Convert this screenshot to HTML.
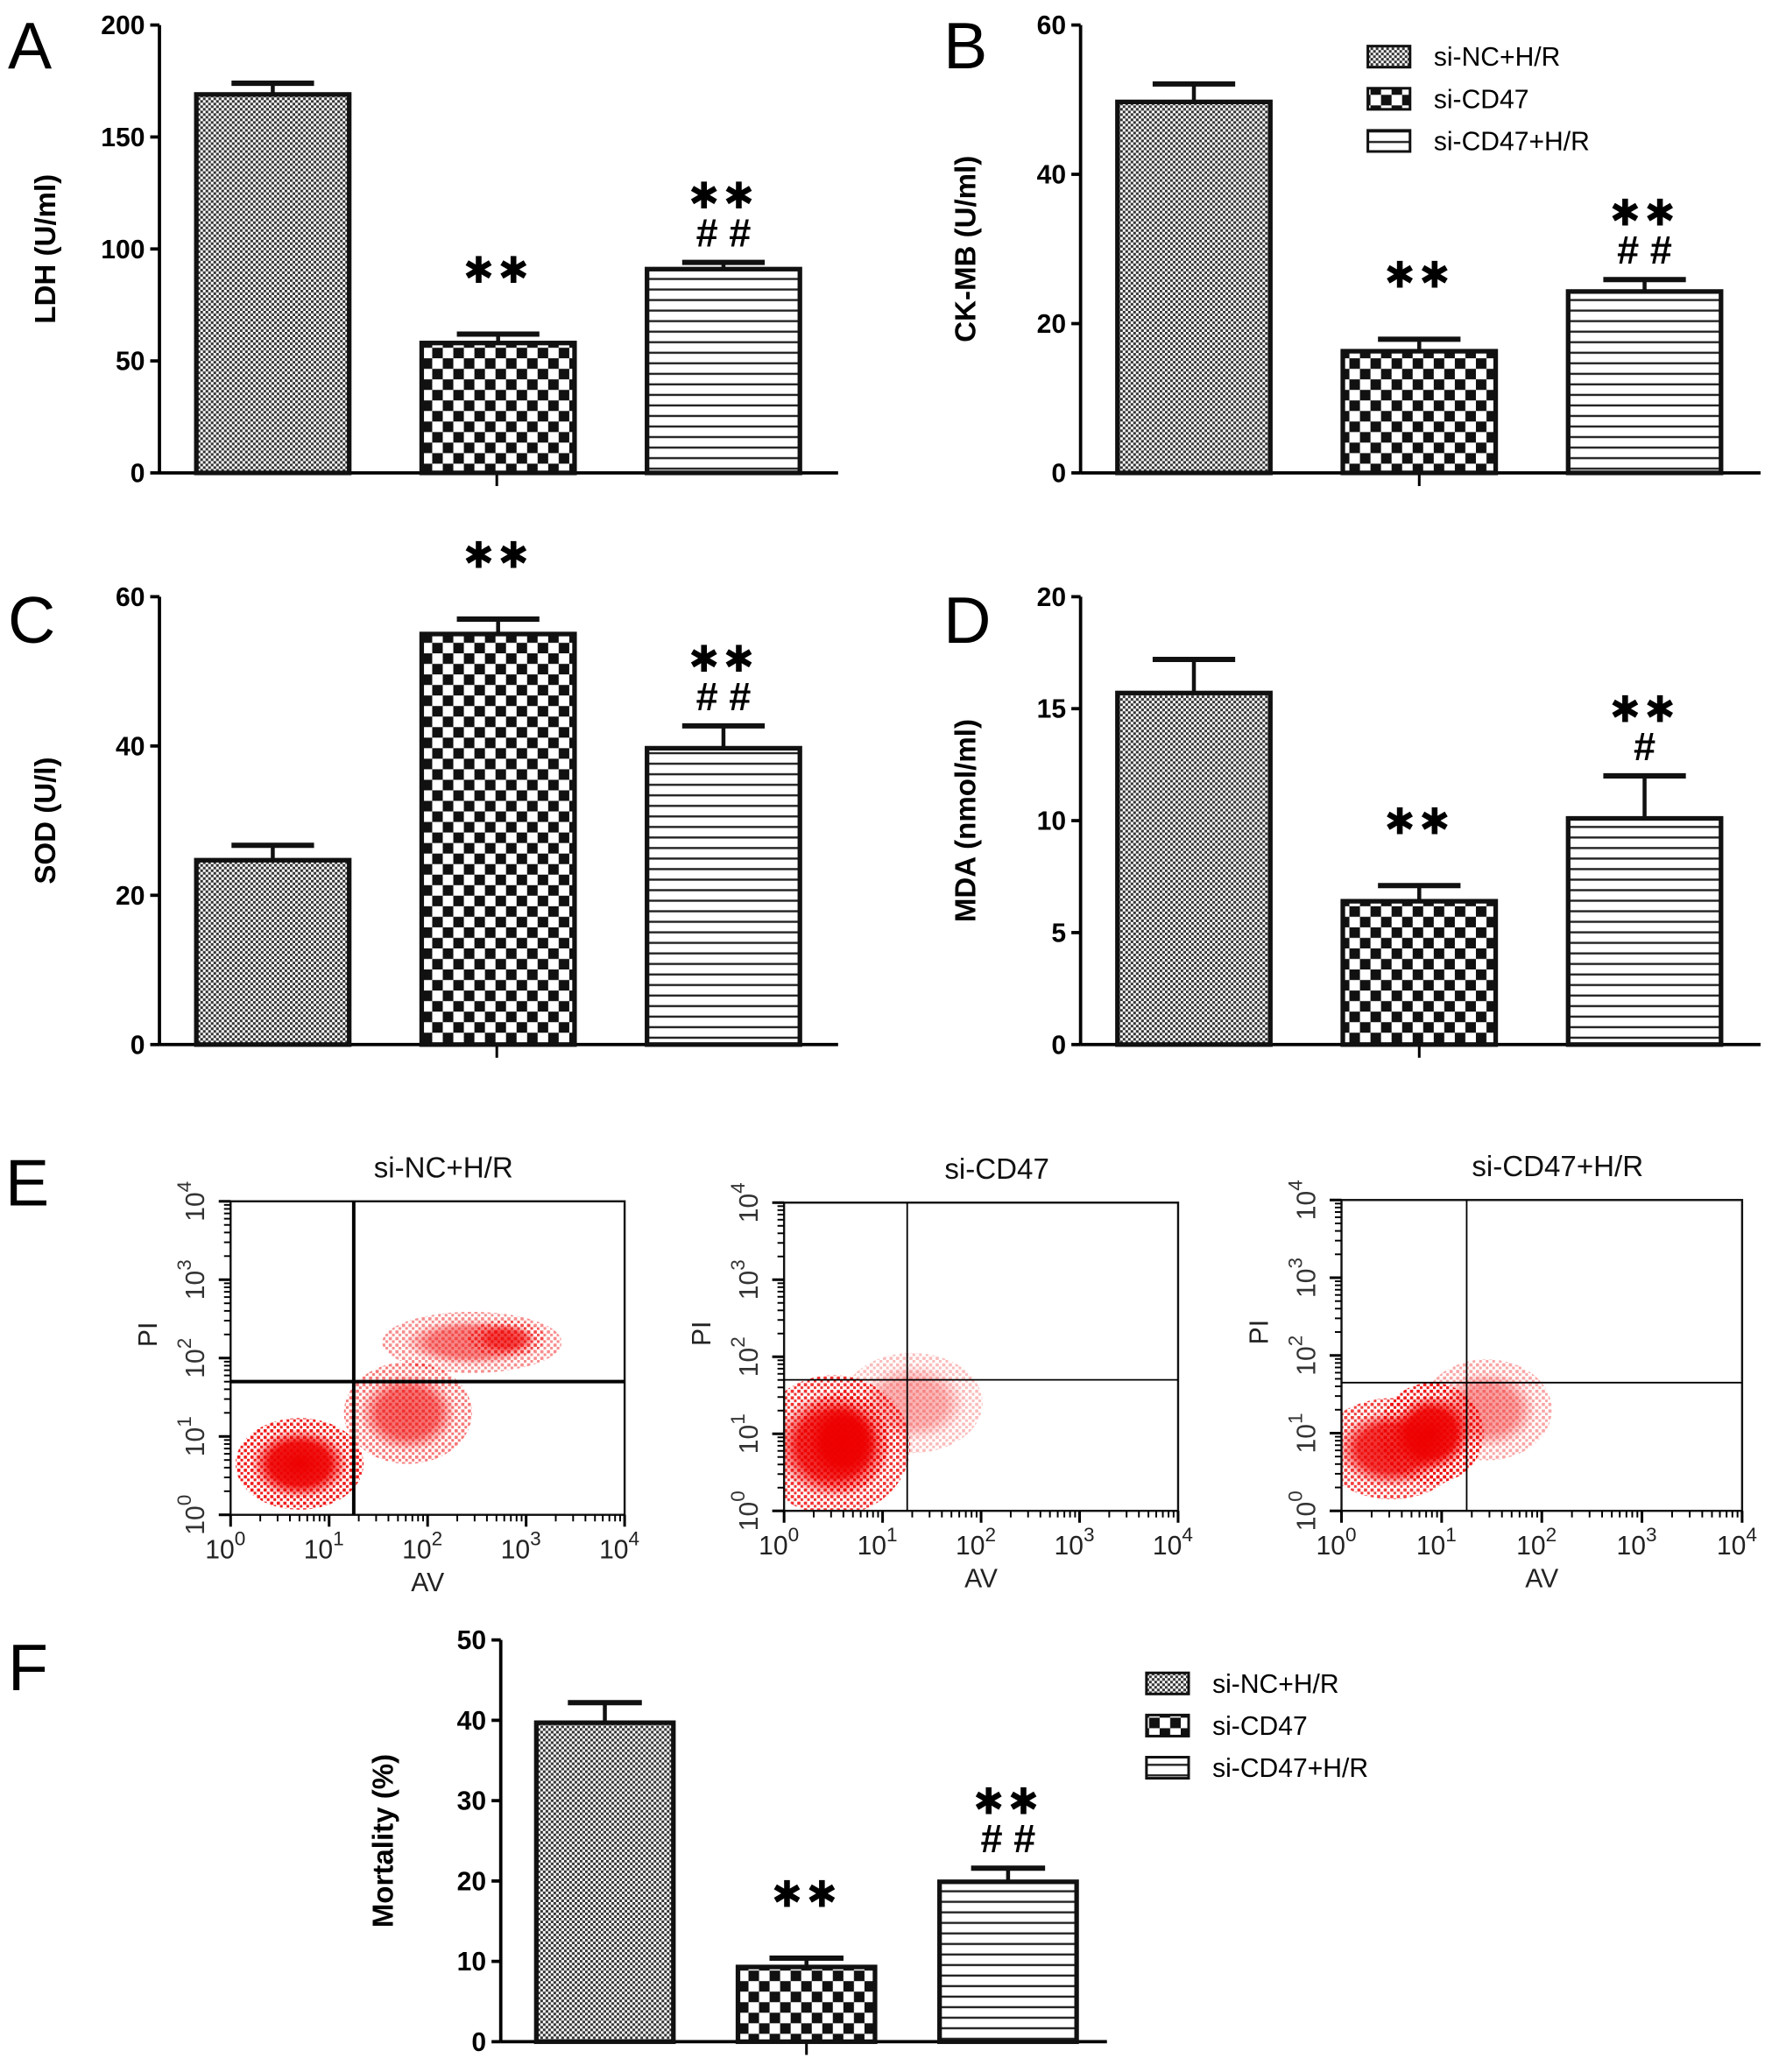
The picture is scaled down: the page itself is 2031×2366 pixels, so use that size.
<!DOCTYPE html>
<html><head><meta charset="utf-8">
<style>
html,body{margin:0;padding:0;background:#fff;}
svg{display:block;}
text{font-family:"Liberation Sans",Arial,sans-serif;}
</style></head>
<body>
<svg id="fig" width="2031" height="2366" viewBox="0 0 1350 1573" preserveAspectRatio="none" xmlns="http://www.w3.org/2000/svg">
<defs>
<pattern id="pFine" width="4" height="4" patternUnits="userSpaceOnUse"><rect width="4" height="4" fill="#fff"/><rect width="2" height="2" fill="#333"/><rect x="2" y="2" width="2" height="2" fill="#333"/></pattern>
<pattern id="pCheck" width="16" height="16" patternUnits="userSpaceOnUse"><rect width="16" height="16" fill="#fff"/><rect width="8" height="8" fill="#111"/><rect x="8" y="8" width="8" height="8" fill="#111"/></pattern>
<pattern id="pLines" width="8" height="8" patternUnits="userSpaceOnUse"><rect width="8" height="8" fill="#fff"/><rect y="3" width="8" height="1.6" fill="#222"/></pattern>
<pattern id="pDots" width="5" height="5" patternUnits="userSpaceOnUse"><rect width="5" height="5" fill="none"/><rect width="2.4" height="2.4" fill="#e00"/><rect x="2.5" y="2.5" width="2" height="2" fill="#e00"/></pattern>
<radialGradient id="gBlob"><stop offset="0" stop-color="#e00" stop-opacity="1"/><stop offset="0.6" stop-color="#e00" stop-opacity="0.9"/><stop offset="1" stop-color="#e00" stop-opacity="0"/></radialGradient>
</defs>
<g id="root"></g>
</svg>
<script>
// ---- Bar chart data ----
const groups = ["si-NC+H/R","si-CD47","si-CD47+H/R"];
const ldhVals = [169, 58, 91];
const ldhErr = [5, 4, 3];
const ckVals = [49.7, 16.3, 24.3];
const ckErr = [2.4, 1.6, 1.6];
const sodVals = [24.7, 55, 39.7];
const sodErr = [2, 2, 3];
const mdaVals = [15.7, 6.4, 10.1];
const mdaErr = [1.5, 0.7, 1.9];
const mortVals = [39.7, 9.3, 19.9];
const mortErr = [2.5, 1.1, 1.7];
const ldhTicks = [0,50,100,150,200];
const ckTicks = [0,20,40,60];
const sodTicks = [0,20,40,60];
const mdaTicks = [0,5,10,15,20];
const mortTicks = [0,10,20,30,40,50];
const ldhSig = ["", "**", "**\n##"];
const ckSig = ["", "**", "**\n##"];
const sodSig = ["", "**", "**\n##"];
const mdaSig = ["", "**", "**\n#"];
const mortSig = ["", "**", "**\n##"];
// ---- Flow cytometry cluster data (log10 units: x=AV, y=PI, spread in decades, density) ----
const flowTitles = ["si-NC+H/R","si-CD47","si-CD47+H/R"];
const flow1X = [0.7, 1.8, 2.45, 2.8];
const flow1Y = [0.65, 1.3, 2.2, 2.25];
const flow1SX = [0.5, 0.5, 0.7, 0.3];
const flow1SY = [0.45, 0.5, 0.3, 0.18];
const flow1D = [1, 0.6, 0.5, 0.55];
const flow2X = [0.5, 0.6, 1.3];
const flow2Y = [0.85, 0.9, 1.4];
const flow2SX = [0.6, 0.35, 0.55];
const flow2SY = [0.7, 0.5, 0.5];
const flow2D = [0.9, 1, 0.3];
const flow3X = [0.5, 0.9, 1.45];
const flow3Y = [0.8, 1.0, 1.3];
const flow3SX = [0.55, 0.4, 0.5];
const flow3SY = [0.5, 0.5, 0.5];
const flow3D = [0.85, 1, 0.4];
const quad1 = [1.25, 1.7];
const quad2 = [1.25, 1.7];
const quad3 = [1.25, 1.65];
const logTicks = [0,1,2,3,4];

const NS="http://www.w3.org/2000/svg";
const root=document.getElementById('root');
function mk(tag,attrs,parent){const e=document.createElementNS(NS,tag);for(const k in attrs)e.setAttribute(k,attrs[k]);(parent||root).appendChild(e);return e;}
function txt(x,y,s,size,opts,parent){const t=mk('text',Object.assign({x:x,y:y,'font-size':size},opts||{}),parent);t.textContent=s;return t;}

const fills=["url(#pFine)","url(#pCheck)","url(#pLines)"];

function barChart(cfg){
  const g=mk('g',{});
  
  
  const ymax=cfg.ticks[cfg.ticks.length-1];
  const ys=v=>cfg.y0-(v/ymax)*(cfg.y0-cfg.yTop);
  if(cfg.letter){const l=txt(cfg.lx,cfg.ly,cfg.letter,50,{},g);}
  const ya=mk('line',{x1:cfg.ax,y1:cfg.yTop,x2:cfg.ax,y2:cfg.y0,stroke:'#000','stroke-width':2.5},g);
  
  const xa=mk('line',{x1:cfg.ax,y1:cfg.y0,x2:cfg.xEnd,y2:cfg.y0,stroke:'#000','stroke-width':2.5},g);
  
  mk('line',{x1:cfg.xt,y1:cfg.y0,x2:cfg.xt,y2:cfg.y0+10,stroke:'#000','stroke-width':2},g);
  cfg.ticks.forEach(t=>{
    const y=ys(t);
    mk('line',{x1:cfg.ax-7,y1:y,x2:cfg.ax,y2:y,stroke:'#000','stroke-width':2.5},g);
    const tl=txt(cfg.ax-11,y+7,String(t),20,{'text-anchor':'end','font-weight':'bold'},g);
    
  });
  const yl=txt(0,0,cfg.ylabel,22,{'text-anchor':'middle','font-weight':'bold',transform:`translate(${cfg.ylx},${(cfg.yTop+cfg.y0)/2}) rotate(-90)`},g);
  
  cfg.vals.forEach((v,i)=>{
    const x=cfg.bx0+i*cfg.step, w=cfg.bw, top=ys(v), cx=x+w/2;
    const b=mk('rect',{x:x,y:top,width:w,height:cfg.y0-top,fill:fills[i],stroke:'#111','stroke-width':3.5},g);
    
    
    const et=ys(v+cfg.err[i]);
    mk('line',{x1:cx,y1:top,x2:cx,y2:et,stroke:'#111','stroke-width':3},g);
    const cap=mk('line',{x1:cx-w*0.27,y1:et,x2:cx+w*0.27,y2:et,stroke:'#111','stroke-width':4},g);
    
    const s=cfg.sig[i];
    if(s){
      const lines=s.split("\n");
      if(lines.length===1){
        const st=txt(cx,et-39,'✱✱',28,{'text-anchor':'middle','letter-spacing':'3'},g);
        
      } else {
        const st=txt(cx,et-41,'✱✱',28,{'text-anchor':'middle','letter-spacing':'3'},g);
        
        const hs=txt(cx,et-12,lines[1].split('').join(' '),30,{'text-anchor':'middle','font-weight':'bold'},g);
        
      }
    }
  });
  return g;
}

function legend(x,y,name){
  const g=mk('g',{});
  
  groups.forEach((s,i)=>{
    mk('rect',{x:x,y:y+i*32-8,width:32,height:16,fill:fills[i],stroke:'#111','stroke-width':2},g);
    const t=txt(x+50,y+i*32+7,s,20,{},g);
    
  });
}

barChart({name:'ldh-chart',letter:'A',lx:6,ly:52,ax:121,y0:359,yTop:19,xEnd:636,xt:377,bx0:149,step:171,bw:116,vals:ldhVals,err:ldhErr,ticks:ldhTicks,ylabel:'LDH (U/ml)',ylx:42,sig:ldhSig});
barChart({name:'ckmb-chart',letter:'B',lx:716,ly:52,ax:820,y0:359,yTop:19,xEnd:1336,xt:1077,bx0:848,step:171,bw:116,vals:ckVals,err:ckErr,ticks:ckTicks,ylabel:'CK-MB (U/ml)',ylx:740,sig:ckSig});
barChart({name:'sod-chart',letter:'C',lx:6,ly:488,ax:121,y0:793,yTop:453,xEnd:636,xt:377,bx0:149,step:171,bw:116,vals:sodVals,err:sodErr,ticks:sodTicks,ylabel:'SOD (U/l)',ylx:42,sig:sodSig});
barChart({name:'mda-chart',letter:'D',lx:716,ly:488,ax:820,y0:793,yTop:453,xEnd:1336,xt:1077,bx0:848,step:171,bw:116,vals:mdaVals,err:mdaErr,ticks:mdaTicks,ylabel:'MDA (nmol/ml)',ylx:740,sig:mdaSig});
barChart({name:'mortality-chart',letter:'F',lx:6,ly:1283,ax:380,y0:1550,yTop:1245,xEnd:840,xt:612,bx0:407,step:153,bw:104,vals:mortVals,err:mortErr,ticks:mortTicks,ylabel:'Mortality (%)',ylx:298,sig:mortSig});
legend(1038,43,'legend-top');
legend(870,1278,'legend-bottom');

function flowPlot(k,box,xs,ysA,sx,sy,d,quad,thick){
  const g=mk('g',{});
  
  const [x0,x1,yb,yt]=box;
  const X=v=>x0+v/4*(x1-x0), Y=v=>yb-v/4*(yb-yt);
  const cid='clip'+k;
  const cp=mk('clipPath',{id:cid},g);mk('rect',{x:x0,y:yt,width:x1-x0,height:yb-yt},cp);
  const cl=mk('g',{'clip-path':`url(#${cid})`},g);
  xs.forEach((cx,i)=>{
    const e1=mk('ellipse',{cx:X(cx),cy:Y(ysA[i]),rx:sx[i]*(x1-x0)/4*1.3,ry:sy[i]*(yb-yt)/4*1.3,fill:'url(#pDots)',opacity:Math.min(1,d[i]*0.9)},cl);
    
    mk('ellipse',{cx:X(cx),cy:Y(ysA[i]),rx:sx[i]*(x1-x0)/4,ry:sy[i]*(yb-yt)/4,fill:'url(#gBlob)',opacity:d[i]},cl);
  });
  mk('rect',{x:x0,y:yt,width:x1-x0,height:yb-yt,fill:'none',stroke:'#111','stroke-width':1.6},g);
  const sw=thick?2.6:1.2;
  const qv=mk('line',{x1:X(quad[0]),y1:yt,x2:X(quad[0]),y2:yb,stroke:'#000','stroke-width':sw},g);
  
  const qh=mk('line',{x1:x0,y1:Y(quad[1]),x2:x1,y2:Y(quad[1]),stroke:'#000','stroke-width':sw},g);
  
  logTicks.forEach(t=>{
    mk('line',{x1:X(t),y1:yb,x2:X(t),y2:yb+9,stroke:'#000','stroke-width':2},g);
    mk('line',{x1:x0-9,y1:Y(t),x2:x0,y2:Y(t),stroke:'#000','stroke-width':2},g);
    if(t<4){for(let m=2;m<10;m++){const f=Math.log10(m);
      mk('line',{x1:X(t+f),y1:yb,x2:X(t+f),y2:yb+5,stroke:'#000','stroke-width':1.3},g);
      mk('line',{x1:x0-5,y1:Y(t+f),x2:x0,y2:Y(t+f),stroke:'#000','stroke-width':1.3},g);}}
    const xl=txt(X(t)-4,yb+33,'10',20,{'text-anchor':'middle',fill:'#222'},g);
    
    const sup=mk('tspan',{dy:-10,'font-size':15},xl);sup.textContent=String(t);
    const yl=txt(0,0,'10',20,{'text-anchor':'middle',fill:'#333',transform:`translate(${x0-20},${Y(t)}) rotate(-90)`},g);
    
    const s2=mk('tspan',{dy:-10,'font-size':15},yl);s2.textContent=String(t);
  });
  const ax=txt((x0+x1)/2,yb+58,'AV',20,{'text-anchor':'middle',fill:'#222'},g);
  
  const ay=txt(0,0,'PI',20,{'text-anchor':'middle',fill:'#222',transform:`translate(${x0-56},${Y(2.3)}) rotate(-90)`},g);
  
  const tt=txt((x0+x1)/2+12,yt-18,flowTitles[k],22,{'text-anchor':'middle',fill:'#111'},g);
  
}
const eL=txt(4,915,'E',50,{});

flowPlot(0,[175,474,1150,912],flow1X,flow1Y,flow1SX,flow1SY,flow1D,quad1,true);
flowPlot(1,[595,894,1147,913],flow2X,flow2Y,flow2SX,flow2SY,flow2D,quad2,false);
flowPlot(2,[1018,1322,1147,911],flow3X,flow3Y,flow3SX,flow3SY,flow3D,quad3,false);
</script>
</body></html>
